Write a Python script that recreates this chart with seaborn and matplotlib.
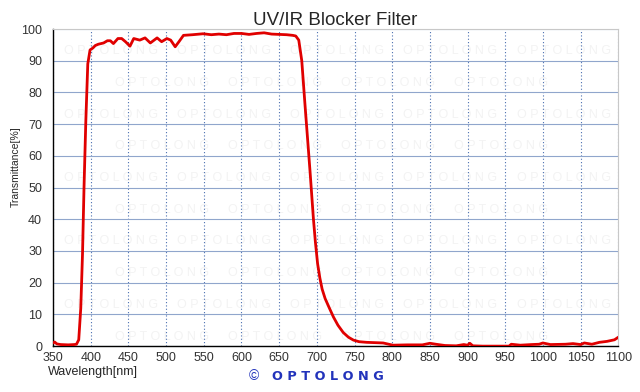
import pandas as pd
import numpy as np
import seaborn as sns
import matplotlib.pyplot as plt

# transmittance curve
wavelength = [350, 352, 355, 360, 370, 378, 381, 384, 386.7, 389, 391, 393.4, 396, 399,
              402.7, 406, 410, 417, 422, 426, 430, 436, 441, 446, 452, 457, 465, 472, 479,
              488, 494, 501, 506, 512, 517, 523, 535, 549, 560, 570, 580, 590, 600, 610,
              620, 630, 640, 650, 660, 668, 672, 676, 680, 684, 687.5, 691, 695.5, 698,
              701, 704, 707, 711, 717, 722, 728, 735, 742, 748.6, 756, 766, 788, 801,
              820, 840, 850, 858, 870, 885, 895, 900, 903, 907, 920, 940, 955, 958, 970,
              985, 995, 1000, 1010, 1030, 1040, 1050, 1055, 1065, 1075, 1085, 1095, 1100]
transmittance = [1.0, 1.3, 0.7, 0.5, 0.4, 0.5, 0.6, 2, 12, 29, 50, 71, 89, 93.4,
                 94, 94.8, 95.2, 95.6, 96.3, 96.3, 95.4, 97, 97, 96, 94.6, 97, 96.5, 97.2, 95.6,
                 97.2, 96, 97, 96.5, 94.4, 96, 98, 98.2, 98.5, 98.2, 98.4, 98.2, 98.6, 98.6, 98.3,
                 98.6, 98.8, 98.4, 98.3, 98.2, 98, 97.8, 96.5, 90, 77, 66, 55, 40, 33,
                 26, 21.5, 18, 15, 11.8, 9.2, 6.6, 4.3, 2.8, 1.9, 1.4, 1.2, 1.0, 0.3,
                 0.4, 0.4, 0.9, 0.6, 0.2, 0.1, 0.5, 0.3, 0.9, 0.1, 0.0, 0.0, 0.0, 0.6, 0.3,
                 0.5, 0.6, 1.0, 0.5, 0.6, 0.8, 0.5, 1.0, 0.6, 1.2, 1.5, 2.0, 2.8]

xticks = list(range(350, 1101, 50))
yticks = list(range(0, 101, 10))

df = pd.DataFrame({'wl': wavelength, 'T': transmittance})

sns.set_style("white")
plt.rcParams['font.family'] = ['Liberation Sans', 'DejaVu Sans']

fig = plt.figure(figsize=(6.4, 3.92), dpi=100)
ax = fig.add_axes([0.083, 0.117, 0.883, 0.809])

# faint watermark inside the plot area
for r, yy in enumerate(np.arange(0.93, 0.0, -0.1)):
    off = 0.0 if r % 2 == 0 else 0.09
    for xx in np.arange(0.02 + off, 0.85, 0.2):
        ax.text(xx, yy, 'O P T O L O N G', color='#f3f3f3', fontsize=9,
                ha='left', va='center', zorder=0, transform=ax.transAxes,
                clip_on=True)

sns.lineplot(data=df, x='wl', y='T', color='#e00000', lw=2, ax=ax, zorder=5)

ax.set_xlim(350, 1100)
ax.set_ylim(0, 100)
ax.set_xticks(xticks)
ax.set_yticks(yticks)
ax.tick_params(axis='x', direction='in', length=4, width=0.8, labelsize=9, pad=4,
               labelcolor='#333333')
ax.tick_params(axis='y', length=0, labelsize=9, pad=8, labelcolor='#333333')
ax.yaxis.grid(True, color='#90a6cc', lw=0.8, ls='-')
ax.xaxis.grid(True, color='#4a6fb0', lw=0.8, ls=(0, (1, 2)))

for s in ['left', 'bottom']:
    ax.spines[s].set_color('black')
    ax.spines[s].set_linewidth(1.0)
for s in ['top', 'right']:
    ax.spines[s].set_color('#c8c8c8')
    ax.spines[s].set_linewidth(0.8)

ax.set_xlabel('')
ax.set_ylabel('Transmittance[%]', fontsize=7.5)
ax.yaxis.set_label_coords(-0.058, 0.565)
ax.set_title('UV/IR Blocker Filter', fontsize=13.5, pad=3)
fig.text(0.075, 0.051, 'Wavelength[nm]', fontsize=9, ha='left', va='center')
fig.text(0.388, 0.042, '©', fontsize=10, color='#2233bb', ha='left', va='center')
fig.text(0.425, 0.04, 'O P T O L O N G', fontsize=9.3, color='#2233bb',
         ha='left', va='center', fontweight='bold', family='DejaVu Sans')

plt.savefig("out.png", dpi=100)
